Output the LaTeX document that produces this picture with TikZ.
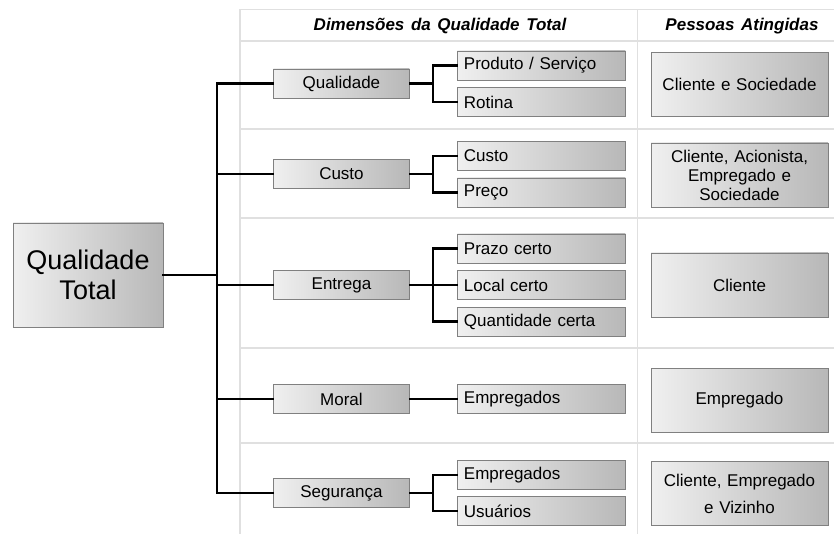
\documentclass[tikz,border=0pt]{standalone}
\usepackage{fontspec}
\setmainfont[WordSpace=1.4]{Liberation Sans}
\usetikzlibrary{calc}
\tikzset{
  grid/.style={draw=black!12, line width=1.2pt},
  conn/.style={draw=black, line width=2.4pt, line cap=rect, line join=miter},
  gbox/.style={draw=black!50, line width=0.9pt, left color=black!6, right color=black!28, inner sep=0pt, font=\fontsize{17}{19}\selectfont},
  lvone/.style={gbox, minimum width=136pt, minimum height=29pt, anchor=west, align=center},
  lvtwo/.style={gbox, minimum width=168pt, minimum height=29pt, anchor=west, text width=155pt, align=left},
  pbox/.style={gbox, minimum width=177pt, minimum height=64pt, align=center, text width=172pt},
  head/.style={font=\fontsize{17}{19}\selectfont\bfseries\itshape},
}
\begin{document}
\begin{tikzpicture}[x=1pt, y=-1pt]
\useasboundingbox (0,0) rectangle (834,534);
% table grid
\draw[grid] (240,534) -- (240,9.5) -- (834,9.5);
\draw[grid] (637.5,9.5) -- (637.5,534);
\foreach \yy in {41,129,218,348,443} \draw[grid] (240,\yy) -- (834,\yy);
% headers
\node[head] (h1) at (440,26) {Dimensões da Qualidade Total};
\node[head] (h2) at (742,26) {Pessoas Atingidas};
% root
\node[gbox, minimum width=150pt, minimum height=104pt, align=center, font=\fontsize{27}{30}\selectfont] (QT) at (88,275) {Qualidade\\Total};
% level one
\node[lvone] (qual) at (273,83.5) {Qualidade};
\node[lvone] (cust) at (273,174) {Custo};
\node[lvone] (entr) at (273,285) {Entrega};
\node[lvone] (mora) at (273,399) {Moral};
\node[lvone] (segu) at (273,493) {Segurança};
% level two
\node[lvtwo] (prod) at (457,65.5) {Produto / Serviço};
\node[lvtwo] (roti) at (457,102) {Rotina};
\node[lvtwo] (cus2) at (457,156) {Custo};
\node[lvtwo] (prec) at (457,192.5) {Preço};
\node[lvtwo] (praz) at (457,248.5) {Prazo certo};
\node[lvtwo] (loca) at (457,285) {Local certo};
\node[lvtwo] (quan) at (457,321.5) {Quantidade certa};
\node[lvtwo] (emp1) at (457,399) {Empregados};
\node[lvtwo] (emp2) at (457,475) {Empregados};
\node[lvtwo] (usua) at (457,511) {Usuários};
% people
\node[pbox] (p1) at (739.5,84.5) {Cliente e Sociedade};
\node[pbox] (p2) at (739.5,175) {Cliente, Acionista,\\Empregado e\\Sociedade};
\node[pbox] (p3) at (739.5,285) {Cliente};
\node[pbox] (p4) at (739.5,400) {Empregado};
\node[pbox, font=\fontsize{17}{27}\selectfont] (p5) at (739.5,493.5) {Cliente, Empregado\\e Vizinho};
% connectors
\coordinate (tx) at (217,0);
\coordinate (bx) at (433,0);
\draw[conn] (QT.east) -- (QT.east -| tx);
\draw[conn] (qual.west) -- (qual.west -| tx) -- (segu.west -| tx) -- (segu.west);
\draw[conn] (cust.west) -- (cust.west -| tx);
\draw[conn] (entr.west) -- (entr.west -| tx);
\draw[conn] (mora.west) -- (mora.west -| tx);
% branches
\draw[conn] (qual.east) -- (qual.east -| bx);
\draw[conn] (prod.west) -- (prod.west -| bx) -- (roti.west -| bx) -- (roti.west);
\draw[conn] (cust.east) -- (cust.east -| bx);
\draw[conn] (cus2.west) -- (cus2.west -| bx) -- (prec.west -| bx) -- (prec.west);
\draw[conn] (entr.east) -- (loca.west);
\draw[conn] (praz.west) -- (praz.west -| bx) -- (quan.west -| bx) -- (quan.west);
\draw[conn] (mora.east) -- (emp1.west);
\draw[conn] (segu.east) -- (segu.east -| bx);
\draw[conn] (emp2.west) -- (emp2.west -| bx) -- (usua.west -| bx) -- (usua.west);
\end{tikzpicture}
\end{document}
